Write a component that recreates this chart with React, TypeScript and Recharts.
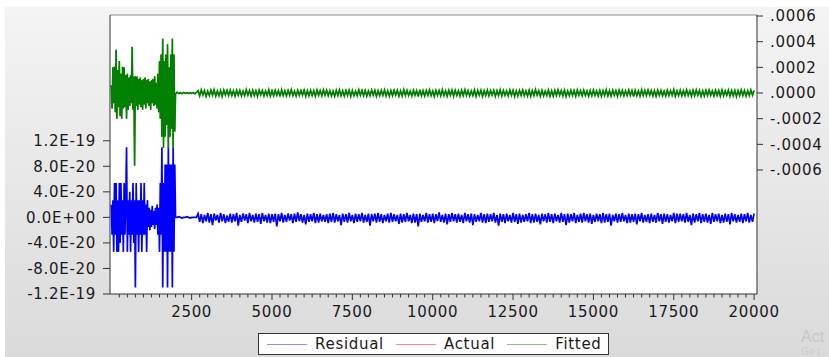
import { LineChart, Line, XAxis, YAxis, ReferenceLine } from 'recharts';

// obs 0..1975 sampled every 25, then every 50 up to 20000
const EARLY_STEP = 25;
const LATE_STEP = 50;
const LATE_START = 2000;

// Residual, in units of 1E-21 (left axis)
const RES_EARLY = [
  20, -27, 27, -54, 54, -27, 54, -54, 27, -54, 54, -40, 54, -27, 27, -54, 54, -27, 27, 110,
  -54, 27, -27, 40, -54, 27, -27, 54, -40, 27, -110, 54, -27, 27, -54, 27, -27, 54, -54, 27,
  -27, 54, -27, 20, -54, 27, -15, 15, -20, 12, -15, 18, -12, 10, -18, 15, -12, 20, -27, 15,
  -54, 54, -27, 110, -110, 54, -54, 83, -54, 83, -110, 110, -54, 83, -54, 83, -110, 110, -54, 83,
];
const RES_FLAT = [0, 0, 1, 0, -1, 0, 0, 1, 0, -1, 0, 0, 0, 0];
const RES_BAND = [
  6, -7, 5, -9, 4, -6, 7, -8, 5, -12, 6, -5, 4, -8, 7, -6, 5, -9, 3, -7,
  6, -8, 5, -6, 7, -13, 4, -7, 6, -5, 5, -9, 7, -6, 4, -8, 6, -7, 5, -10,
  7, -6, 4, -8, 6, -9, 5, -7, 6, -14, 5, -6, 7, -8, 4, -7, 6, -5, 5, -9,
  6, -7, 8, -6, 5, -8, 4, -11, 6, -7, 5, -6, 7, -9, 5, -8, 6, -6, 4, -7,
  5, -9, 6, -7, 7, -8, 5, -6, 4, -12, 6, -7, 5, -8, 7, -6, 4, -9, 6, -7,
  5, -6, 7, -8, 4, -7, 6, -13, 5, -6, 6, -8, 7, -7, 5, -9, 4, -6, 6, -8,
  7, -7, 5, -6, 4, -10, 6, -8, 5, -7, 7, -6, 4, -9, 6, -8, 5, -14, 6, -7,
  4, -6, 7, -8, 5, -7, 6, -9, 5, -6, 8, -7, 4, -8, 6, -11, 5, -7, 7, -6,
  5, -8, 6, -7, 4, -9, 7, -6, 5, -8, 6, -12, 5, -7, 4, -6, 7, -8, 5, -9,
  6, -7, 5, -6, 7, -8, 4, -13, 6, -7, 5, -9, 6, -6, 4, -8, 7, -7, 5, -10,
  6, -8, 4, -7, 5, -6, 7, -9, 5, -8, 6, -7, 4, -11, 6, -6, 5, -8, 7, -7,
  5, -9, 6, -6, 4, -8, 7, -7, 5, -12, 6, -8, 5, -6, 7, -9, 4, -7, 6, -8,
  7, -6, 5, -8, 6, -10, 4, -7, 6, -6, 5, -9, 7, -8, 5, -7, 6, -13, 4, -6,
  6, -8, 5, -7, 7, -6, 4, -9, 6, -8, 5, -7, 6, -11, 5, -6, 7, -8, 4, -7,
  5, -9, 6, -7, 4, -8, 7, -6, 5, -10, 6, -7, 5, -8, 4, -6, 7, -9, 6, -7,
  6, -6, 5, -8, 7, -7, 4, -12, 6, -8, 5, -6, 7, -9, 5, -7, 6, -8, 4, -10,
  7, -7, 5, -6, 6, -9, 4, -8, 6, -7, 5, -11, 7, -6, 5, -8, 4, -7, 6, -9,
  5, -6, 7, -8, 4, -7, 6,
];

// Fitted (= Actual), in units of 1E-6 (right axis)
const FIT_EARLY = [
  60, -120, 200, -80, 205, -150, 337, -200, 180, -110, 250, -180, 150, -200, 205, -120, 200, -110, 140, -200,
  150, -130, 120, -100, 140, -80, 360, -130, 128, -566, 130, -100, 128, -130, 110, -90, 120, -110, 100, -130,
  110, -90, 120, -120, 100, -80, 110, -100, 90, -130, 100, -80, 110, -100, 130, -90, 80, -120, 150, -150,
  250, -200, 300, -340, 423, -426, 250, -340, 300, -250, 380, -426, 200, -340, 300, -280, 423, -426, 300, -300,
];
const FIT_FLAT = [-8, 6, -4, 3, -5, 4, -2, 3, -4, 2, -3, 4, -6, 5];
const FIT_BAND = [
  18, -22, 25, -15, 20, -26, 14, -20, 22, -18, 26, -24, 16, -21, 19, -27, 23, -16, 21, -19,
  24, -20, 17, -25, 22, -18, 20, -23, 15, -21, 26, -17, 19, -24, 21, -20, 18, -26, 23, -15,
  20, -22, 16, -19, 25, -24, 18, -21, 22, -17, 19, -28, 24, -20, 17, -23, 21, -18, 26, -21,
  15, -24, 22, -19, 20, -16, 23, -25, 18, -22, 21, -20, 17, -26, 24, -18, 19, -21, 25, -17,
  22, -20, 18, -23, 16, -25, 21, -19, 24, -22, 17, -24, 20, -18, 23, -27, 19, -21, 15, -20,
  25, -18, 21, -22, 19, -24, 16, -20, 23, -17, 22, -26, 18, -21, 20, -19, 24, -23, 17, -25,
  19, -21, 23, -16, 20, -25, 17, -22, 26, -19, 21, -20, 15, -24, 22, -18, 19, -27, 25, -21,
  18, -23, 20, -19, 24, -21, 16, -26, 22, -17, 19, -22, 25, -20, 17, -24, 21, -18, 23, -25,
  21, -19, 17, -24, 22, -20, 25, -18, 19, -23, 16, -21, 24, -26, 20, -17, 22, -25, 18, -20,
  23, -22, 19, -17, 21, -26, 18, -20, 25, -24, 20, -19, 16, -22, 23, -18, 21, -27, 17, -23,
  20, -18, 24, -21, 16, -23, 22, -25, 19, -20, 26, -17, 18, -24, 21, -22, 15, -19, 24, -26,
  17, -24, 21, -20, 25, -18, 19, -22, 23, -27, 16, -21, 22, -19, 20, -25, 24, -17, 18, -22,
  22, -19, 16, -25, 20, -21, 24, -18, 17, -23, 21, -26, 19, -20, 25, -22, 18, -24, 22, -17,
  19, -25, 23, -18, 21, -22, 17, -20, 24, -19, 20, -28, 22, -21, 16, -24, 25, -19, 21, -20,
  24, -17, 20, -23, 18, -26, 22, -19, 21, -22, 15, -24, 23, -20, 19, -18, 26, -25, 17, -21,
  21, -22, 18, -20, 25, -19, 16, -24, 22, -21, 24, -17, 20, -26, 18, -23, 21, -20, 23, -18,
  16, -23, 22, -19, 20, -25, 24, -21, 17, -18, 23, -24, 19, -22, 21, -27, 18, -20, 25, -19,
  20, -24, 17, -21, 23, -18, 19,
];

const X_MAJOR = [2500, 5000, 7500, 10000, 12500, 15000, 17500, 20000];
const X_MINOR_STEP = 250;

const RES_TICKS = [-120, -80, -40, 0, 40, 80, 120];
const RES_LABELS = ['-1.2E-19', '-8.0E-20', '-4.0E-20', '0.0E+00', '4.0E-20', '8.0E-20', '1.2E-19'];
const FIT_TICKS = [-600, -400, -200, 0, 200, 400, 600];
const FIT_LABELS = ['-.0006', '-.0004', '-.0002', '.0000', '.0002', '.0004', '.0006'];

const LEGEND = [
  { name: 'Residual', color: '#8c8cff' },
  { name: 'Actual', color: '#ff8c8c' },
  { name: 'Fitted', color: '#86c486' },
];

const RES = [...RES_EARLY, ...RES_FLAT, ...RES_BAND];
const FIT = [...FIT_EARLY, ...FIT_FLAT, ...FIT_BAND];
const data = RES.map((r, i) => ({
  obs: i < RES_EARLY.length ? i * EARLY_STEP : LATE_START + (i - RES_EARLY.length) * LATE_STEP,
  res: r,
  act: FIT[i],
  fit: FIT[i],
}));

const xTicks = Array.from({ length: 20000 / X_MINOR_STEP }, (_, i) => (i + 1) * X_MINOR_STEP);

const FONT = '"DejaVu Sans", Verdana, sans-serif';
const AXIS = '#333';
const tickText = { fill: '#1a1a1a', fontSize: 15, fontFamily: FONT, letterSpacing: 0.7 };

function ObsTick(props: any) {
  const { x, y, payload } = props;
  const major = X_MAJOR.includes(payload.value);
  return (
    <g>
      <line x1={x} y1={y} x2={x} y2={y + (major ? 6 : 3.5)} stroke={AXIS} />
      {major && (
        <text x={x} y={y + 23} textAnchor="middle" {...tickText}>
          {payload.value}
        </text>
      )}
    </g>
  );
}

export default function App() {
  return (
    <div style={{ position: 'fixed', left: 0, top: 0, width: 829, height: 357, background: '#fff', overflow: 'hidden' }}>
      <div
        style={{
          position: 'absolute', left: 5, top: 7, right: 0, bottom: 0,
          background: 'linear-gradient(#f4f4f4, #dadada)',
        }}
      />
      {/* white plot background */}
      <div style={{ position: 'absolute', left: 110, top: 15, width: 647, height: 279, background: '#fff' }} />
      <div style={{ position: 'absolute', left: 0, top: 0 }}>
        <LineChart width={829} height={357} data={data} margin={{ top: 15, right: 0, bottom: 23, left: 0 }}>
          <XAxis
            dataKey="obs"
            type="number"
            domain={[-40, 20090]}
            allowDataOverflow
            ticks={xTicks}
            interval={0}
            height={40}
            tickSize={0}
            tickMargin={0}
            tickLine={false}
            axisLine={{ stroke: AXIS }}
            tick={<ObsTick />}
          />
          <YAxis
            yAxisId="res"
            type="number"
            domain={[-120, 317]}
            allowDataOverflow
            ticks={RES_TICKS}
            interval={0}
            width={110}
            tickSize={7}
            tickMargin={7}
            axisLine={{ stroke: AXIS }}
            tickLine={{ stroke: AXIS }}
            tick={tickText}
            tickFormatter={(v: number) => RES_LABELS[RES_TICKS.indexOf(v)]}
          />
          <YAxis
            yAxisId="fit"
            orientation="right"
            type="number"
            domain={[-1566, 608]}
            allowDataOverflow
            ticks={FIT_TICKS}
            interval={0}
            width={72}
            tickSize={6}
            tickMargin={7}
            axisLine={{ stroke: AXIS }}
            tickLine={{ stroke: AXIS }}
            tick={{ ...tickText, textAnchor: 'start' }}
            tickFormatter={(v: number) => FIT_LABELS[FIT_TICKS.indexOf(v)]}
          />
          <ReferenceLine yAxisId="res" y={317} stroke="#8a8a8a" />
          <Line yAxisId="res" dataKey="res" stroke="#0000ff" strokeWidth={1.7} dot={false} isAnimationActive={false} />
          {/* actual equals fitted, fully hidden under it */}
          <Line yAxisId="fit" dataKey="act" stroke="#ff0000" strokeWidth={0.5} dot={false} isAnimationActive={false} />
          <Line yAxisId="fit" dataKey="fit" stroke="#008000" strokeWidth={1.7} dot={false} isAnimationActive={false} />
        </LineChart>
      </div>

      {/* Legend */}
      <div
        style={{
          position: 'absolute', left: 258, top: 333, width: 341, height: 20,
          background: '#fff', border: '1px solid #333', display: 'flex', alignItems: 'center',
          paddingLeft: 8, boxSizing: 'content-box',
        }}
      >
        {LEGEND.map(({ name, color }) => (
          <div key={name} style={{ display: 'flex', alignItems: 'center', marginRight: 12 }}>
            <div style={{ width: 40, height: 1, background: color, marginRight: 8 }} />
            <span style={{ fontFamily: FONT, fontSize: 15, letterSpacing: 0.7, color: '#1a1a1a' }}>{name}</span>
          </div>
        ))}
      </div>

      {/* faint watermark */}
      <div style={{ position: 'absolute', left: 801, top: 329, lineHeight: 1, fontFamily: 'Liberation Sans, Arial', fontSize: 16, color: '#c8c8c8' }}>
        Act
      </div>
      <div style={{ position: 'absolute', left: 801, top: 347, lineHeight: 1, fontFamily: 'Liberation Sans, Arial', fontSize: 10, color: '#cdcdcd' }}>
        Go t
      </div>
    </div>
  );
}
